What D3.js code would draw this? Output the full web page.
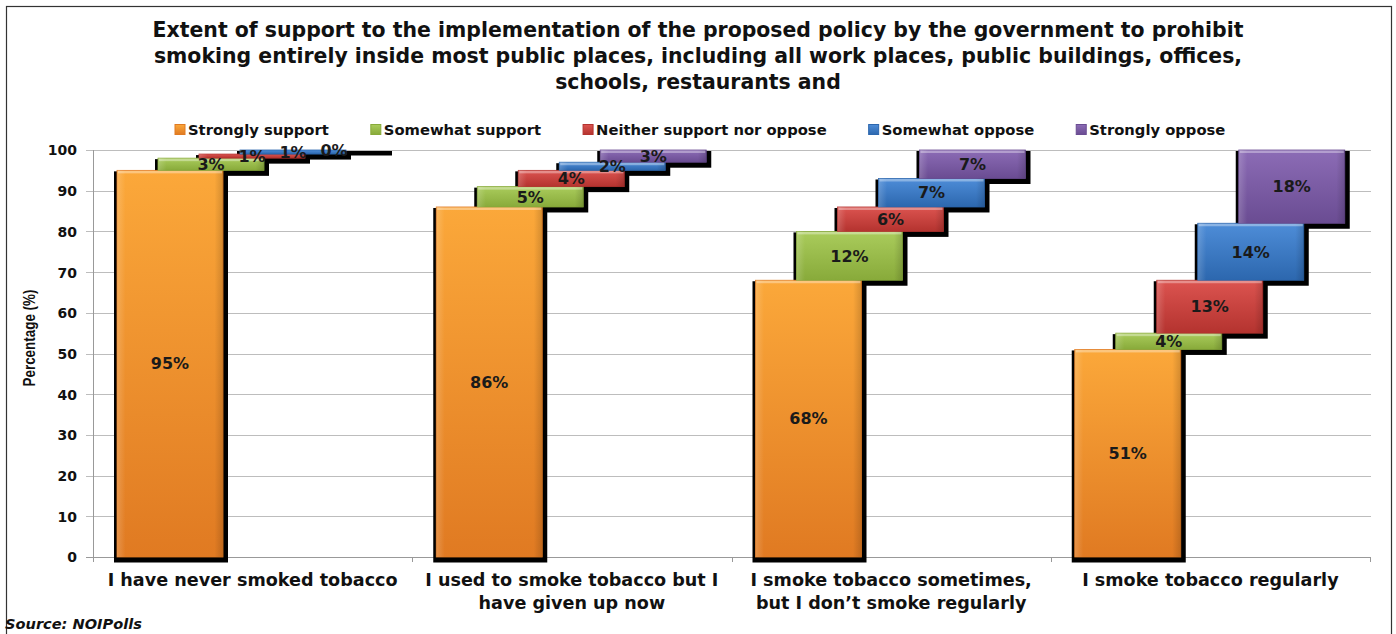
<!DOCTYPE html>
<html><head><meta charset="utf-8">
<script src="https://cdn.jsdelivr.net/npm/d3@7"></script>
<style>html,body{margin:0;padding:0;background:#fff;}svg{display:block;}</style>
</head><body>
<svg id="chart" width="1396" height="634"></svg>
<script>
// ---- data ----
const categories = ["never", "used", "sometimes", "regularly"];
const categoryLabels = [
  ["I have never smoked tobacco"],
  ["I used to smoke tobacco but I", "have given up now"],
  ["I smoke tobacco sometimes,", "but I don\u2019t smoke regularly"],
  ["I smoke tobacco regularly"]
];
const series = ["Strongly support", "Somewhat support", "Neither support nor oppose", "Somewhat oppose", "Strongly oppose"];
const stronglySupport = [95, 86, 68, 51];
const somewhatSupport = [3, 5, 12, 4];
const neitherSupportNorOppose = [1, 4, 6, 13];
const somewhatOppose = [1, 2, 7, 14];
const stronglyOppose = [0, 3, 7, 18];
const yTicks = [0, 10, 20, 30, 40, 50, 60, 70, 80, 90, 100];
const titleLines = [
  "Extent of support to the implementation of the proposed policy by the government to prohibit",
  "smoking entirely inside most public places, including all work places, public buildings, offices,",
  "schools, restaurants and"
];
const colors = [
  ["#FBA83A", "#E07A22"],
  ["#AACC5C", "#88AA3A"],
  ["#DC5450", "#B4332F"],
  ["#4E8DD8", "#2C67AE"],
  ["#8C6CB6", "#6A4C92"]
];
const seriesValues = [stronglySupport, somewhatSupport, neitherSupportNorOppose, somewhatOppose, stronglyOppose];

// ---- layout ----
const svg = d3.select("#chart");
const FONT = "'DejaVu Sans', Verdana, sans-serif";
const plot = {left: 93, right: 1370, top: 150, bottom: 557};

const x0 = d3.scaleBand().domain(categories).range([plot.left, plot.right]);
const x1 = d3.scaleBand().domain(series).range([24, 24 + 5 * 41]);
const barW = 106;
const y = d3.scaleLinear().domain([0, 100]).range([plot.bottom, plot.top]);

function fit(sel, target) {
  const w = sel.node().getComputedTextLength();
  const fs = parseFloat(sel.attr("font-size"));
  sel.attr("font-size", (fs * target / w).toFixed(2));
  return fs * target / w;
}

// frame
svg.append("rect").attr("x", 6.5).attr("y", 6.5).attr("width", 1385).attr("height", 700)
  .attr("fill", "none").attr("stroke", "#333").attr("stroke-width", 1.2);

// gradients
const defs = svg.append("defs");
colors.forEach((c, i) => {
  const g = defs.append("linearGradient").attr("id", "g" + i).attr("x1", 0).attr("y1", 0).attr("x2", 0).attr("y2", 1);
  g.append("stop").attr("offset", "0%").attr("stop-color", c[0]);
  g.append("stop").attr("offset", "100%").attr("stop-color", c[1]);
  const h = defs.append("linearGradient").attr("id", "h" + i).attr("x1", 0).attr("y1", 0).attr("x2", 1).attr("y2", 0);
  h.append("stop").attr("offset", "0%").attr("stop-color", "#fff").attr("stop-opacity", 0.18);
  h.append("stop").attr("offset", "8%").attr("stop-color", "#fff").attr("stop-opacity", 0);
  h.append("stop").attr("offset", "92%").attr("stop-color", "#000").attr("stop-opacity", 0);
  h.append("stop").attr("offset", "100%").attr("stop-color", "#000").attr("stop-opacity", 0.15);
});

// title
const titleSel = svg.append("g").attr("font-family", FONT).attr("font-weight", "bold").attr("fill", "#111")
  .attr("text-anchor", "middle");
const t0 = titleSel.append("text").attr("x", 698).attr("y", 37).attr("font-size", 18).text(titleLines[0]);
const tfs = fit(t0, 1092);
titleLines.slice(1).forEach((l, i) => {
  titleSel.append("text").attr("x", 698).attr("y", 63 + i * 26).attr("font-size", tfs).text(l);
});

// gridlines and y axis
const grid = svg.append("g");
grid.selectAll("line").data(yTicks).join("line")
  .attr("x1", plot.left - 7).attr("x2", plot.right + 1)
  .attr("y1", d => Math.round(y(d)) + 0.5).attr("y2", d => Math.round(y(d)) + 0.5)
  .attr("stroke", d => d === 0 ? "#999" : "#BDBDBD").attr("stroke-width", 1.2);
svg.append("line").attr("x1", plot.left + 0.5).attr("x2", plot.left + 0.5)
  .attr("y1", plot.top).attr("y2", plot.bottom).attr("stroke", "#999");
// category ticks on x axis
svg.append("g").selectAll("line").data(categories.concat(["end"])).join("line")
  .attr("x1", (d, i) => Math.round(plot.left + i * x0.step()) + 0.5)
  .attr("x2", (d, i) => Math.round(plot.left + i * x0.step()) + 0.5)
  .attr("y1", plot.bottom).attr("y2", plot.bottom + 5).attr("stroke", "#999");

const yAxis = d3.axisLeft(y).tickValues(yTicks).tickSize(0).tickPadding(0).tickFormat(d3.format("d"));
const ya = svg.append("g").attr("transform", `translate(${plot.left - 16},0)`).call(yAxis);
ya.select(".domain").remove();
ya.selectAll("text").attr("font-family", FONT).attr("font-weight", "bold").attr("font-size", 14)
  .attr("fill", "#111").attr("dy", "0.35em");

// y title
svg.append("text").attr("transform", "translate(35,338) rotate(-90)")
  .attr("text-anchor", "middle").attr("font-family", "'Liberation Sans', Arial, sans-serif")
  .attr("font-weight", "bold").attr("font-size", 16).attr("fill", "#111")
  .attr("textLength", 97).attr("lengthAdjust", "spacingAndGlyphs").text("Percentage (%)");

// bars
const bars = [];
categories.forEach((c, ci) => {
  let cum = 0;
  series.forEach((s, si) => {
    const v = seriesValues[si][ci];
    bars.push({c, s, si, v, y0: cum, y1: cum + v});
    cum += v;
  });
});
const bx = d => x0(d.c) + x1(d.s);
const shadows = svg.append("g");
shadows.selectAll("rect").data(bars).join("rect")
  .attr("x", d => bx(d) - 3).attr("y", d => y(d.y1) + 1)
  .attr("width", barW + 8).attr("height", d => y(d.y0) - y(d.y1) + 4.5)
  .attr("fill", "#000");
const barG = svg.append("g");
barG.selectAll("rect.b").data(bars).join("rect").attr("class", "b")
  .attr("x", bx).attr("y", d => y(d.y1)).attr("width", barW)
  .attr("height", d => Math.max(0, y(d.y0) - y(d.y1)))
  .attr("fill", d => `url(#g${d.si})`).attr("stroke", d => colors[d.si][1]).attr("stroke-width", 0.8);
barG.selectAll("rect.h").data(bars).join("rect").attr("class", "h")
  .attr("x", bx).attr("y", d => y(d.y1)).attr("width", barW)
  .attr("height", d => Math.max(0, y(d.y0) - y(d.y1)))
  .attr("fill", d => `url(#h${d.si})`);
barG.selectAll("rect.t").data(bars.filter(d => d.v > 1)).join("rect").attr("class", "t")
  .attr("x", d => bx(d) + 1).attr("y", d => y(d.y1) + 0.5).attr("width", barW - 2)
  .attr("height", 2.5).attr("fill", "#fff").attr("opacity", 0.35);

// bar labels
svg.append("g").selectAll("text").data(bars).join("text")
  .attr("x", d => bx(d) + barW / 2).attr("y", d => (y(d.y0) + y(d.y1)) / 2)
  .attr("dy", "0.36em").attr("text-anchor", "middle")
  .attr("font-family", FONT).attr("font-weight", "bold").attr("font-size", 16)
  .attr("fill", "#1a1a1a").text(d => d.v + "%");

// x labels
const xl = svg.append("g").attr("font-family", FONT).attr("font-weight", "bold").attr("fill", "#111")
  .attr("text-anchor", "middle");
const xt0 = xl.append("text").attr("x", x0(categories[0]) + x0.bandwidth() / 2).attr("y", 586)
  .attr("font-size", 17).text(categoryLabels[0][0]);
const xfs = fit(xt0, 290);
categories.forEach((c, ci) => {
  if (ci === 0) return;
  categoryLabels[ci].forEach((l, li) => {
    xl.append("text").attr("x", x0(c) + x0.bandwidth() / 2).attr("y", 586 + li * 23)
      .attr("font-size", xfs).text(l);
  });
});

// legend
const lg = svg.append("g").attr("font-family", FONT).attr("font-weight", "bold").attr("fill", "#111");
const items = series.map((s, i) => {
  const g = lg.append("g");
  g.append("rect").attr("x", 0).attr("y", -5.5).attr("width", 10).attr("height", 10)
    .attr("fill", `url(#g${i})`).attr("stroke", colors[i][1]);
  const t = g.append("text").attr("x", 13).attr("y", 0).attr("dy", "0.35em").attr("font-size", 13).text(s);
  return {g, t};
});
const lfs = 13 * 141 / items[0].t.node().getComputedTextLength();
items.forEach(it => it.t.attr("font-size", lfs));
let lx = 175;
items.forEach(it => {
  it.g.attr("transform", `translate(${lx},130)`);
  lx += 13 + it.t.node().getComputedTextLength() + 42;
});

// source
const src = svg.append("text").attr("x", 5).attr("y", 629).attr("font-family", FONT)
  .attr("font-weight", "bold").attr("font-style", "italic").attr("font-size", 11).attr("fill", "#111")
  .text("Source: NOIPolls");
fit(src, 137);
</script>
</body></html>
